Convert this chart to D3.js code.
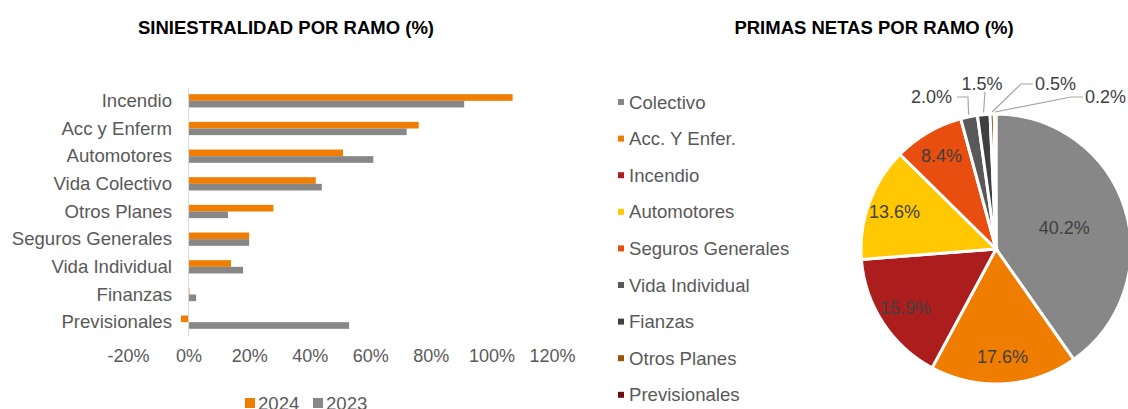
<!DOCTYPE html>
<html>
<head>
<meta charset="utf-8">
<script src="https://cdn.jsdelivr.net/npm/d3@7"></script>
<style>
  body { margin: 0; background: #fff; font-family: "Liberation Sans", Arial, sans-serif; }
  .title { font-weight: bold; font-size: 18.5px; fill: #000; }
  .axis text { font-size: 18px; fill: #595959; font-family: "Liberation Sans", Arial, sans-serif; }
  .label { font-size: 18.6px; fill: #595959; }
</style>
</head>
<body>
<svg id="chart" width="1128" height="409"></svg>
<script>
// bar chart data (siniestralidad, %)
var ramos = ["Incendio", "Acc y Enferm", "Automotores", "Vida Colectivo", "Otros Planes",
             "Seguros Generales", "Vida Individual", "Finanzas", "Previsionales"];
var sin2024 = [107, 76, 51, 42, 28, 20, 14, 0.3, -2.5];
var sin2023 = [91, 72, 61, 44, 13, 20, 18, 2.5, 53];
var xTicks = [-20, 0, 20, 40, 60, 80, 100, 120];
var years = ["2024", "2023"];

// pie data (primas netas, %)
var pieNames = ["Colectivo", "Acc. Y Enfer.", "Incendio", "Automotores", "Seguros Generales",
                "Vida Individual", "Fianzas", "Otros Planes", "Previsionales"];
var pieValues = [40.2, 17.6, 15.9, 13.6, 8.4, 2.0, 1.5, 0.5, 0.2];
var pieColors = ["#878787", "#EF7D00", "#AC1E1E", "#FFC800", "#E84E0F",
                 "#595959", "#404040", "#9C5200", "#6B1010"];

var svg = d3.select("#chart");

// ---------- bar chart ----------
var x = d3.scaleLinear().domain([-20, 120]).range([128, 552]);
var y = d3.scaleBand().domain(ramos).range([87, 336]).paddingInner(0.52).paddingOuter(0.26);
var barColors = ["#EF7D00", "#878787"];

svg.append("text").attr("class", "title")
    .attr("x", 286).attr("y", 34).attr("text-anchor", "middle")
    .text("SINIESTRALIDAD POR RAMO (%)");

var half = y.bandwidth() / 2;
var rows = svg.append("g").selectAll("g").data(ramos).enter().append("g");

rows.append("rect")
    .attr("x", function(d, i) { return x(Math.min(0, sin2024[i])); })
    .attr("y", function(d) { return y(d); })
    .attr("width", function(d, i) { return Math.abs(x(sin2024[i]) - x(0)); })
    .attr("height", half)
    .attr("fill", barColors[0]);

rows.append("rect")
    .attr("x", function(d, i) { return x(Math.min(0, sin2023[i])); })
    .attr("y", function(d) { return y(d) + half; })
    .attr("width", function(d, i) { return Math.abs(x(sin2023[i]) - x(0)); })
    .attr("height", half)
    .attr("fill", barColors[1]);

// zero line
svg.append("line")
    .attr("x1", x(0)).attr("x2", x(0))
    .attr("y1", 88).attr("y2", 336)
    .attr("stroke", "#d9d9d9").attr("stroke-width", 1);

// category labels
svg.append("g").selectAll("text").data(ramos).enter().append("text")
    .attr("class", "label")
    .attr("x", 172)
    .attr("y", function(d) { return y(d) + y.bandwidth() / 2 + 6; })
    .attr("text-anchor", "end")
    .text(function(d) { return d; });

var xAxis = d3.axisBottom(x).tickValues(xTicks).tickSize(0)
    .tickFormat(function(d) { return d + "%"; });
svg.append("g").attr("class", "axis")
    .attr("transform", "translate(0,346)")
    .call(xAxis)
    .call(function(g) { g.select(".domain").remove(); });

// bar legend
var leg = svg.append("g").selectAll("g").data(years).enter().append("g")
    .attr("transform", function(d, i) { return "translate(" + (245 + i * 68) + ",398)"; });
leg.append("rect").attr("width", 10).attr("height", 10)
    .attr("fill", function(d, i) { return barColors[i]; });
leg.append("text").attr("class", "label")
    .attr("x", 13).attr("y", 12)
    .text(function(d) { return d; });

// ---------- pie ----------
svg.append("text").attr("class", "title")
    .attr("x", 874).attr("y", 34).attr("text-anchor", "middle")
    .text("PRIMAS NETAS POR RAMO (%)");

var cx = 996, cy = 249, radius = 135;
var pie = d3.pie().sort(null).value(function(d) { return d; });
var arc = d3.arc().innerRadius(0).outerRadius(radius);
var arcs = pie(pieValues);

var pg = svg.append("g").attr("transform", "translate(" + cx + "," + cy + ")");
pg.selectAll("path").data(arcs).enter().append("path")
    .attr("d", arc)
    .attr("fill", function(d, i) { return pieColors[i]; })
    .attr("stroke", "#fff").attr("stroke-width", 3);

// inside labels (big slice label sits nearer the centre, like excel best fit)
function labelPos(d) {
    var r = d.data > 30 ? radius * 0.53 : radius * 0.8;
    return d3.arc().innerRadius(r).outerRadius(r).centroid(d);
}
pg.selectAll("text.inside").data(arcs.filter(function(d) { return d.data >= 5; }))
    .enter().append("text")
    .attr("class", "inside")
    .attr("transform", function(d) { return "translate(" + labelPos(d) + ")"; })
    .attr("dy", "0.35em")
    .attr("text-anchor", "middle")
    .attr("font-size", 18)
    .attr("fill", "#404040")
    .text(function(d) { return d.data.toFixed(1) + "%"; });

// outside labels with leader lines (label spots relative to centre)
var outSpots = { 5: [-48, -155], 6: [-11, -168], 7: [39, -168], 8: [89, -155] };
var outer = arcs.filter(function(d) { return d.data < 5; });
outer.forEach(function(d) {
    var i = d.index;
    var a = (d.startAngle + d.endAngle) / 2;
    var px = Math.sin(a) * (radius + 2), py = -Math.cos(a) * (radius + 2);
    var s = outSpots[i];
    var pts;
    if (i === 5) pts = [[s[0] + 9, s[1] + 3], [s[0] + 20, s[1] + 3], [px, py]];
    else if (i === 6) pts = [[s[0], s[1] + 11], [px, py]];
    else pts = [[s[0] - 2, s[1] + 3], [s[0] - 14, s[1] + 3], [px, py]];
    pg.append("path")
        .attr("d", d3.line()(pts))
        .attr("fill", "none").attr("stroke", "#a6a6a6").attr("stroke-width", 1.2);
    var anchor = i === 5 ? "end" : (i === 6 ? "middle" : "start");
    var tx = i === 5 ? s[0] + 4 : (i === 6 ? s[0] - 3 : s[0]);
    pg.append("text")
        .attr("x", tx).attr("y", s[1] + 9)
        .attr("text-anchor", anchor)
        .attr("font-size", 18)
        .attr("fill", "#404040")
        .text(d.data.toFixed(1) + "%");
});

// pie legend
var pleg = svg.append("g").selectAll("g").data(pieNames).enter().append("g")
    .attr("transform", function(d, i) { return "translate(618," + (102 + i * 36.6) + ")"; });
pleg.append("rect").attr("x", 0).attr("y", -3).attr("width", 6).attr("height", 6)
    .attr("fill", function(d, i) { return pieColors[i]; });
pleg.append("text").attr("class", "label")
    .attr("x", 11).attr("y", 6.5)
    .text(function(d) { return d; });
</script>
</body>
</html>
